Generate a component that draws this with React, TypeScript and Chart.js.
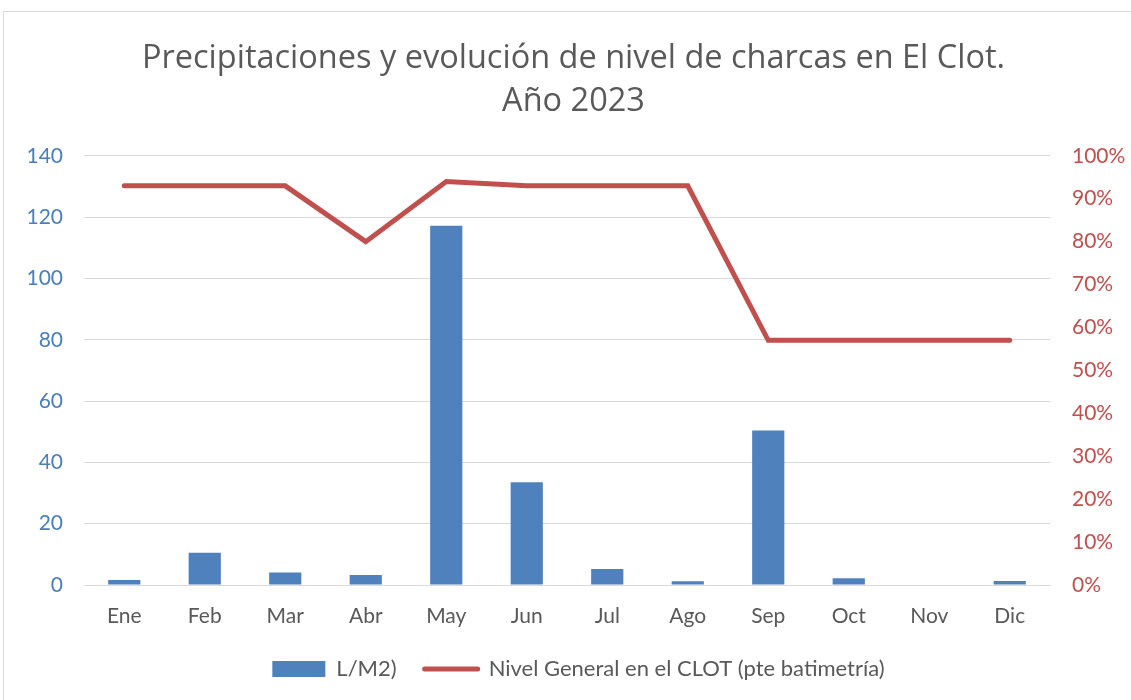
import React, { useEffect, useRef } from "react";
import { Chart, registerables } from "chart.js";

Chart.register(...registerables);

const months = ["Ene", "Feb", "Mar", "Abr", "May", "Jun", "Jul", "Ago", "Sep", "Oct", "Nov", "Dic"];
const rainfall = [1.6, 10.5, 4.1, 3.3, 117.2, 33.5, 5.2, 1.2, 50.4, 2.2, 0, 1.3];
const pondLevel = [0.93, 0.93, 0.93, 0.8, 0.94, 0.93, 0.93, 0.93, 0.57, 0.57, 0.57, 0.57];
const titleLines = ["Precipitaciones y evolución de nivel de charcas en El Clot.", "Año 2023"];
const barLabel = "L/M2)";
const lineLabel = "Nivel General en el CLOT (pte batimetría)";

const BLUE = "#4F81BD";
const RED = "#C0504D";
const GREY_TEXT = "#595959";

const LEGEND_FIT_PADDING = 23;
const LEGEND_DRAW_PADDING = 28;

// widen the horizontal gap between legend items at draw time only
const legendGap = {
  id: "legendGap",
  beforeDraw(chart: any) {
    const l = chart.legend;
    if (l && l.options && l.options.labels) {
      l.options.labels.padding = LEGEND_DRAW_PADDING;
    }
  },
  afterDraw(chart: any) {
    const l = chart.legend;
    if (l && l.options && l.options.labels) {
      l.options.labels.padding = LEGEND_FIT_PADDING;
    }
  },
};

export default function App() {
  const ref = useRef<HTMLCanvasElement | null>(null);

  useEffect(() => {
    if (!ref.current) return;
    const chart = new Chart(ref.current, {
      type: "bar",
      data: {
        labels: months,
        datasets: [
          {
            type: "bar",
            label: barLabel,
            data: rainfall,
            backgroundColor: BLUE,
            borderWidth: 0,
            yAxisID: "y",
            barPercentage: 0.4,
            categoryPercentage: 1,
            order: 2,
          },
          {
            type: "line",
            label: lineLabel,
            data: pondLevel,
            borderColor: RED,
            backgroundColor: RED,
            borderWidth: 5,
            pointRadius: 0,
            tension: 0,
            yAxisID: "y1",
            order: 1,
            borderCapStyle: "round",
            borderJoinStyle: "miter",
          } as any,
        ],
      },
      plugins: [legendGap],
      options: {
        responsive: false,
        animation: false,
        layout: { padding: { left: 16, right: 0, top: 0, bottom: 15 } },
        plugins: {
          title: {
            display: true,
            text: titleLines,
            color: GREY_TEXT,
            font: { family: "'Open Sans', sans-serif", size: 32.5, weight: "normal", lineHeight: 1.32 },
            padding: { top: 37, bottom: 33 },
          },
          legend: {
            position: "bottom",
            labels: {
              color: GREY_TEXT,
              font: { family: "Lato, sans-serif", size: 22 },
              usePointStyle: true,
              pointStyleWidth: 53,
              boxHeight: 16,
              padding: LEGEND_FIT_PADDING,
              generateLabels: () => [
                {
                  text: barLabel,
                  fillStyle: BLUE,
                  strokeStyle: BLUE,
                  lineWidth: 0,
                  pointStyle: "rect",
                  datasetIndex: 0,
                  fontColor: GREY_TEXT,
                } as any,
                {
                  text: lineLabel,
                  fillStyle: RED,
                  strokeStyle: RED,
                  lineWidth: 5,
                  lineCap: "round",
                  pointStyle: "line",
                  datasetIndex: 1,
                  fontColor: GREY_TEXT,
                } as any,
              ],
            },
          },
          tooltip: { enabled: false },
        },
        scales: {
          x: {
            grid: { display: false, drawTicks: false },
            border: { display: true, color: "#D9D9D9", width: 1 },
            ticks: {
              color: GREY_TEXT,
              font: { family: "Lato, sans-serif", size: 21 },
              padding: 19,
            },
            afterFit: (s: any) => {
              s.height = 45;
            },
          },
          y: {
            position: "left",
            min: 0,
            max: 140,
            ticks: {
              stepSize: 20,
              color: "#4A7EBB",
              font: { family: "Lato, sans-serif", size: 21 },
              padding: 21,
            },
            grid: { color: "#D9D9D9", lineWidth: 1, drawTicks: false },
            border: { display: false },
            afterFit: (s: any) => {
              s.width = 68;
            },
          },
          y1: {
            position: "right",
            min: 0,
            max: 1,
            ticks: {
              stepSize: 0.1,
              color: RED,
              font: { family: "Lato, sans-serif", size: 21 },
              padding: 22,
              callback: (v: any) => Math.round(Number(v) * 100) + "%",
            },
            grid: { display: false, drawTicks: false },
            border: { display: false },
            afterFit: (s: any) => {
              s.width = 81;
            },
          },
        },
      },
    });
    return () => chart.destroy();
  }, []);

  return (
    <div style={{ position: "fixed", left: 0, top: 0, width: 1131, height: 700, overflow: "hidden", background: "#fff" }}>
      <div
        style={{
          position: "absolute",
          left: 3,
          top: 11,
          width: 1300,
          height: 900,
          border: "1px solid #D9D9D9",
        }}
      />
      <canvas ref={ref} width={1131} height={700} style={{ position: "absolute", left: 0, top: 0 }} />
    </div>
  );
}
